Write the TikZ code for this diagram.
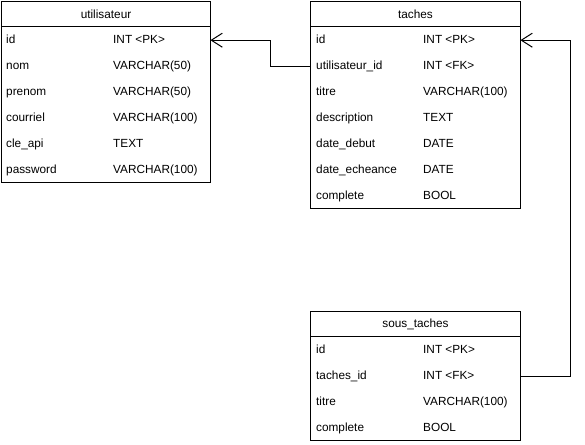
\documentclass[tikz,border=0pt]{standalone}
\usepackage{fontspec}
\setmainfont{Liberation Sans}
\usetikzlibrary{arrows.meta}
\begin{document}
\begin{tikzpicture}[x=1pt,y=-1pt,
  box/.style={draw, line width=1pt, anchor=north west, inner sep=0pt},
  row/.style={anchor=north west, inner sep=0pt, minimum width=209pt, minimum height=26pt},
  fld/.style={anchor=west, inner sep=0pt, font=\fontsize{11.8pt}{14pt}\selectfont, text height=8.5pt, text depth=2.5pt},
  hdr/.style={font=\fontsize{11.8pt}{14pt}\selectfont},
  rel/.style={draw, line width=1pt, -{Straight Barb[length=11pt, width=14pt, line width=1pt]}}
]
\useasboundingbox (0,0) rectangle (585,444);

% utilisateur
\node[box, minimum width=209pt, minimum height=25pt, hdr] (uh) at (1,1) {utilisateur};
\node[box, minimum width=209pt, minimum height=156pt] (ub) at (1,26) {};
\foreach \n/\ty [count=\i] in {id/INT <PK>, nom/VARCHAR(50), prenom/VARCHAR(50), courriel/VARCHAR(100), cle\_api/TEXT, password/VARCHAR(100)} {
  \node[row] (u\i) at (1,{27+26*(\i-1)}) {};
  \node[fld] (u\i n) at ([xshift=5pt]u\i.west) {\n};
  \node[fld] (u\i t) at ([xshift=112pt]u\i.west) {\ty};
}

% taches
\node[box, minimum width=210pt, minimum height=25pt, hdr] (th) at (310,1) {taches};
\node[box, minimum width=210pt, minimum height=182pt] (tb) at (310,26) {};
\foreach \n/\ty [count=\i] in {id/INT <PK>, utilisateur\_id/INT <FK>, titre/VARCHAR(100), description/TEXT, date\_debut/DATE, date\_echeance/DATE, complete/BOOL} {
  \node[row, minimum width=210pt] (t\i) at (310,{27+26*(\i-1)}) {};
  \node[fld] (t\i n) at ([xshift=6pt]t\i.west) {\n};
  \node[fld] (t\i t) at ([xshift=113pt]t\i.west) {\ty};
}

% sous_taches
\node[box, minimum width=210pt, minimum height=25pt, hdr] (sh) at (310,311) {sous\_taches};
\node[box, minimum width=210pt, minimum height=104pt] (sb) at (310,336) {};
\foreach \n/\ty [count=\i] in {id/INT <PK>, taches\_id/INT <FK>, titre/VARCHAR(100), complete/BOOL} {
  \node[row, minimum width=210pt] (s\i) at (310,{337+26*(\i-1)}) {};
  \node[fld] (s\i n) at ([xshift=6pt]s\i.west) {\n};
  \node[fld] (s\i t) at ([xshift=113pt]s\i.west) {\ty};
}

% relations
\draw[rel] (t2.west) -- ++(-40,0) |- (u1.east);
\draw[rel] (s2.east) -- ++(50,0) |- (t1.east);
\end{tikzpicture}
\end{document}
